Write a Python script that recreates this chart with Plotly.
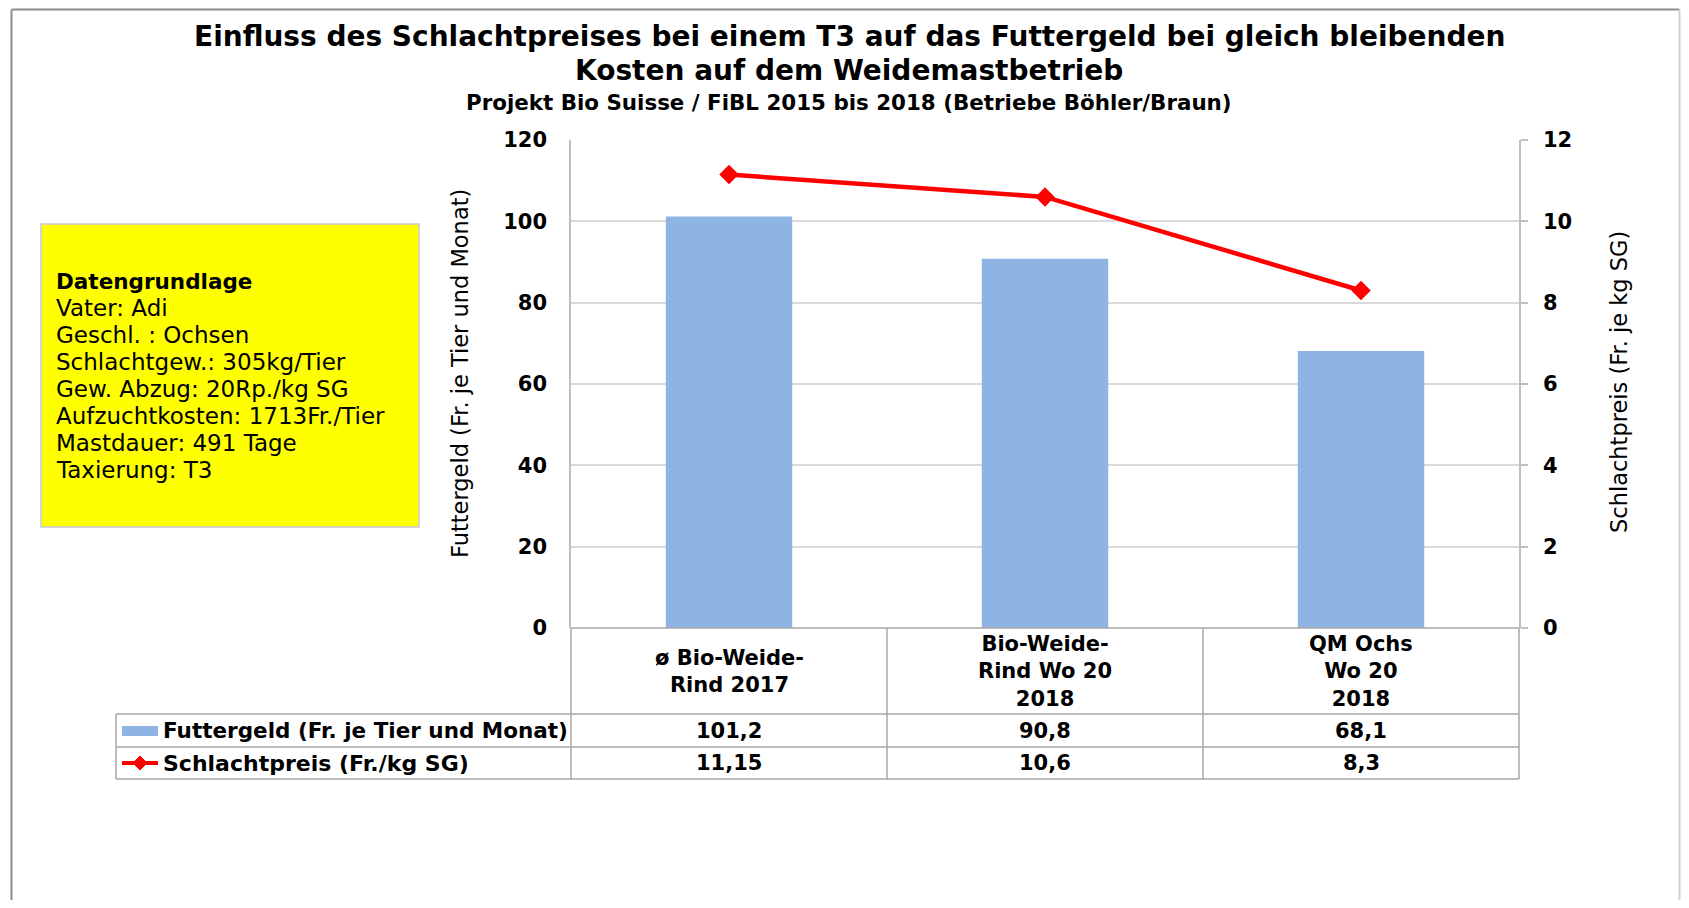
import plotly.graph_objects as go

# ---------------- data ----------------
categories = ["cat1", "cat2", "cat3"]
category_labels = ["ø Bio-Weide-<br>Rind 2017", "Bio-Weide-<br>Rind Wo 20<br>2018", "QM Ochs<br>Wo 20<br>2018"]
futtergeld = [101.2, 90.8, 68.1]
schlachtpreis = [11.15, 10.6, 8.3]
futtergeld_text = ["101,2", "90,8", "68,1"]
schlachtpreis_text = ["11,15", "10,6", "8,3"]
series_names = ["Futtergeld (Fr. je Tier und Monat)", "Schlachtpreis (Fr./kg SG)"]
y1_ticks = [0, 20, 40, 60, 80, 100, 120]
y2_ticks = [0, 2, 4, 6, 8, 10, 12]
info_title = "Datengrundlage"
info_lines = ["Vater: Adi", "Geschl. : Ochsen", "Schlachtgew.: 305kg/Tier",
              "Gew. Abzug: 20Rp./kg SG", "Aufzuchtkosten: 1713Fr./Tier",
              "Mastdauer: 491 Tage", "Taxierung: T3"]
title1 = "Einfluss des Schlachtpreises bei einem T3 auf das Futtergeld bei gleich bleibenden"
title2 = "Kosten auf dem Weidemastbetrieb"
subtitle = "Projekt Bio Suisse / FiBL 2015 bis 2018 (Betriebe Böhler/Braun)"

# ---------------- geometry (page pixel coordinates) ----------------
OFF = 8                      # page body margin
W, H = 1689 - 2 * OFF, 908 - 2 * OFF
L, R, T, B = 571, 1519, 140, 628
PW, PH = R - L, B - T


def px(x):
    return (x - L) / PW


def py(y):
    return (B - y) / PH


FONT = "DejaVu Sans, Liberation Sans, Arial, sans-serif"
BAR_COLOR = "#8EB4E3"
RED = "#FF0000"
GRID = "#D9D9D9"
TAB = "#A6A6A6"

fig = go.Figure()
fig.add_trace(go.Bar(x=categories, y=futtergeld, marker=dict(color=BAR_COLOR, line=dict(width=0)),
                     name=series_names[0], yaxis="y"))
fig.add_trace(go.Scatter(x=categories, y=schlachtpreis, mode="lines+markers", name=series_names[1],
                         line=dict(color=RED, width=4.5),
                         marker=dict(symbol="diamond", size=15, color=RED), yaxis="y2"))

shapes = []
annotations = []


def text(x, y, s, size, anchor="left", angle=0):
    annotations.append(dict(xref="paper", yref="paper", x=px(x), y=py(y), text=s,
                            showarrow=False, xanchor=anchor, yanchor="middle", textangle=angle,
                            font=dict(family=FONT, size=size, color="black")))


# outer frame (kept inside the drawable figure area)
TOPF = OFF + 1.5
RIGHTF = OFF + W - 1.5
shapes.append(dict(type="line", xref="paper", yref="paper", x0=px(11.5), x1=px(11.5), y0=py(TOPF), y1=py(OFF + H + 5),
                   line=dict(color="#8C8C8C", width=2)))
shapes.append(dict(type="line", xref="paper", yref="paper", x0=px(11.5), x1=px(RIGHTF), y0=py(TOPF), y1=py(TOPF),
                   line=dict(color="#8C8C8C", width=2)))
shapes.append(dict(type="line", xref="paper", yref="paper", x0=px(RIGHTF), x1=px(RIGHTF), y0=py(TOPF), y1=py(OFF + H + 5),
                   line=dict(color="#D0D0D0", width=2)))

# yellow info box
shapes.append(dict(type="rect", xref="paper", yref="paper", x0=px(41), x1=px(419), y0=py(224), y1=py(527),
                   fillcolor="#FFFF00", line=dict(color="#C8C8D8", width=1.5), layer="below"))
text(54, 281, "<b>" + info_title + "</b>", 21.5)
for i, line in enumerate(info_lines):
    text(54, 308 + 27 * i, line, 23)

# titles
text(849, 37, "<b>" + title1 + "</b>", 28, "center")
text(849, 71, "<b>" + title2 + "</b>", 28, "center")
text(849, 102, "<b>" + subtitle + "</b>", 21.4, "center")

# axis titles
text(460, 374, "Futtergeld (Fr. je Tier und Monat)", 22.5, "center", -90)
text(1619, 382, "Schlachtpreis (Fr. je kg SG)", 22.5, "center", -90)

# data table lines
for yy, x0 in [(628, L), (714, 116), (747, 116), (779, 116)]:
    shapes.append(dict(type="line", xref="paper", yref="paper", x0=px(x0), x1=px(R), y0=py(yy), y1=py(yy),
                       line=dict(color=TAB, width=1.5)))
col_edges = [L + PW * k / len(categories) for k in range(len(categories) + 1)]
for xx in col_edges:
    shapes.append(dict(type="line", xref="paper", yref="paper", x0=px(xx), x1=px(xx), y0=py(628), y1=py(779),
                       line=dict(color=TAB, width=1.5)))
shapes.append(dict(type="line", xref="paper", yref="paper", x0=px(116), x1=px(116), y0=py(714), y1=py(779),
                   line=dict(color=TAB, width=1.5)))

# legend keys in table
shapes.append(dict(type="rect", xref="paper", yref="paper", x0=px(122), x1=px(158), y0=py(726), y1=py(736),
                   fillcolor=BAR_COLOR, line=dict(width=0)))
shapes.append(dict(type="line", xref="paper", yref="paper", x0=px(122), x1=px(158), y0=py(763), y1=py(763),
                   line=dict(color=RED, width=4)))
shapes.append(dict(type="path", xref="paper", yref="paper",
                   path="M {} {} L {} {} L {} {} L {} {} Z".format(px(140), py(756), px(147), py(763),
                                                                   px(140), py(770), px(133), py(763)),
                   fillcolor=RED, line=dict(color=RED, width=1)))
text(161, 730.5, "<b>" + series_names[0] + "</b>", 21.5)
text(161, 763, "<b>" + series_names[1] + "</b>", 22)

# table cells
for i, c in enumerate(categories):
    for yy, s in [(671, category_labels[i]), (730.5, futtergeld_text[i]), (763, schlachtpreis_text[i])]:
        annotations.append(dict(xref="x", yref="paper", x=c, y=py(yy), text="<b>" + s + "</b>",
                                showarrow=False, xanchor="center", yanchor="middle", align="center",
                                font=dict(family=FONT, size=21, color="black")))

fig.update_layout(
    width=W, height=H,
    margin=dict(l=L - OFF, r=W - (R - OFF), t=T - OFF, b=H - (B - OFF), pad=0),
    paper_bgcolor="white", plot_bgcolor="white",
    showlegend=False, hovermode=False,
    bargap=0.6,
    font=dict(family=FONT, color="black"),
    xaxis=dict(type="category", showticklabels=False, showgrid=False, zeroline=False, showline=False,
               ticks="", range=[-0.5, 2.5]),
    yaxis=dict(range=[0, 120], tickvals=y1_ticks, showgrid=True, gridcolor=GRID, gridwidth=1.5,
               zeroline=False, showline=True, linecolor="#BFBFBF", linewidth=1.5,
               ticks="", ticklabelstandoff=18,
               tickfont=dict(family=FONT, size=21, color="black", weight="bold")),
    yaxis2=dict(range=[0, 12], tickvals=y2_ticks, overlaying="y", side="right", showgrid=False,
                zeroline=False, showline=True, linecolor="#BFBFBF", linewidth=1.5,
                ticks="outside", ticklen=7, tickcolor="#BFBFBF", tickwidth=1.5, ticklabelstandoff=11,
                tickfont=dict(family=FONT, size=21, color="black", weight="bold")),
    shapes=shapes,
    annotations=annotations,
)

fig.write_html("out.html")
